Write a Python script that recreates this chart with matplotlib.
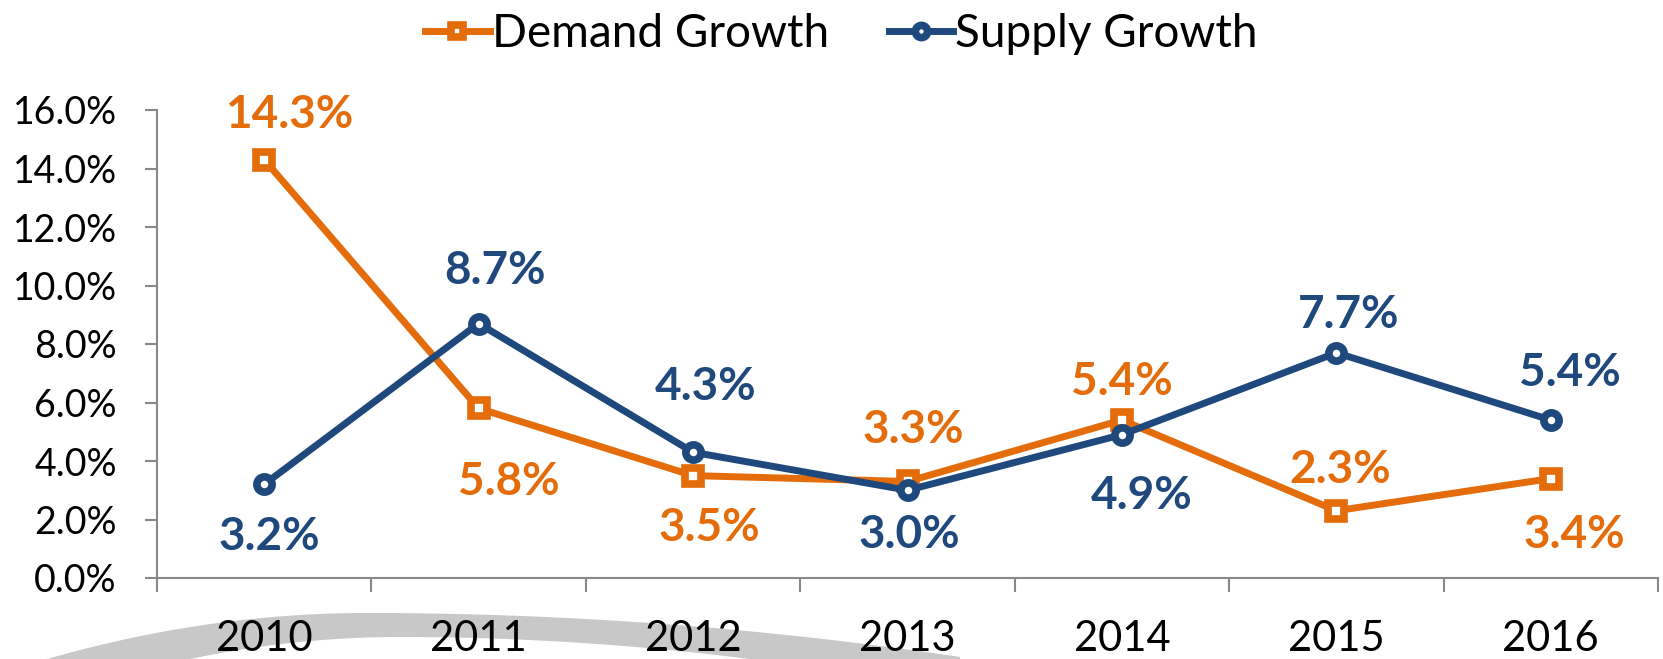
import numpy as np
import matplotlib.pyplot as plt
from matplotlib.patches import Polygon

years = ['2010', '2011', '2012', '2013', '2014', '2015', '2016']
demand = [14.3, 5.8, 3.5, 3.3, 5.4, 2.3, 3.4]
supply = [3.2, 8.7, 4.3, 3.0, 4.9, 7.7, 5.4]

# data label offsets from each point, in points (dx, dy)
demand_dx = [18, 22, 12, 4, 0, 3, 17]
demand_dy = [35, -50, -35, 40, 30, 32, -38]
supply_dx = [4, 12, 9, 1, 14, 9, 14]
supply_dy = [-35, 41, 50, -29, -41, 30, 37]

orange = '#E46C0A'
navy = '#1F497D'
grey = '#898989'

plt.rcParams['font.family'] = ['Lato', 'DejaVu Sans']

W, H = 1663, 659
fig = plt.figure(figsize=(W / 100, H / 100), dpi=100)

# decorative grey swoosh behind the x labels (pixel coords from top-left)
xs = np.linspace(0, 960, 240)
top = np.where(xs < 367, 613 + 4.5e-4 * (xs - 367) ** 2, 613 + 1.25e-4 * (xs - 367) ** 2)
bot = np.where(xs < 400, 637 + 5.0e-4 * (xs - 400) ** 2, 637 + 1.8e-4 * (xs - 400) ** 2)
top = np.minimum(top, H)
bot = np.minimum(bot, H)
pts = np.vstack([np.column_stack([xs, top]), np.column_stack([xs[::-1], bot[::-1]])])
pts = np.column_stack([pts[:, 0] / W, 1 - pts[:, 1] / H])
fig.patches.append(Polygon(pts, closed=True, transform=fig.transFigure,
                           facecolor='#C8C8C8', edgecolor='none', zorder=-5))

ax = fig.add_axes([157 / W, 1 - 578 / H, (1658 - 157) / W, (578 - 110) / H])
ax.patch.set_alpha(0)
x = np.arange(len(years))

ax.plot(x, demand, color=orange, lw=5, marker='s', ms=11, mfc='white', mec=orange,
        mew=5.5, label='Demand Growth', zorder=3)
ax.plot(x, supply, color=navy, lw=5, marker='o', ms=11, mfc='white', mec=navy,
        mew=5.5, label='Supply Growth', zorder=3)

for xi, v, dx, dy in zip(x, demand, demand_dx, demand_dy):
    ax.annotate(f'{v:.1f}%', (xi, v), xytext=(dx, dy), textcoords='offset points',
                ha='center', va='center_baseline', color=orange, fontsize=33,
                fontweight='bold')
for xi, v, dx, dy in zip(x, supply, supply_dx, supply_dy):
    ax.annotate(f'{v:.1f}%', (xi, v), xytext=(dx, dy), textcoords='offset points',
                ha='center', va='center_baseline', color=navy, fontsize=33,
                fontweight='bold')

ax.set_xlim(-0.5, 6.5)
ax.set_ylim(0, 16)
yt = np.arange(0, 17, 2)
ax.set_yticks(yt)
ax.set_yticklabels([f'{v:.1f}%' for v in yt], fontsize=27)
ax.set_xticks(np.arange(-0.5, 7, 1))
ax.set_xticklabels([])
ax.set_xticks(x, minor=True)
ax.set_xticklabels(years, minor=True, fontsize=30)
ax.tick_params(axis='x', which='major', length=10, color=grey, width=1.5)
ax.tick_params(axis='x', which='minor', length=0, pad=30)
ax.tick_params(axis='y', length=9, color=grey, width=1.5, pad=20)

for s in ['top', 'right']:
    ax.spines[s].set_visible(False)
for s in ['left', 'bottom']:
    ax.spines[s].set_color(grey)
    ax.spines[s].set_linewidth(1.5)

fig.legend(loc='center', bbox_to_anchor=(0.506, 0.948), ncol=2, frameon=False,
           fontsize=33, handlelength=1.4, handletextpad=0.05, columnspacing=1.3,
           markerscale=0.8)

fig.savefig('out.png', dpi=100)
